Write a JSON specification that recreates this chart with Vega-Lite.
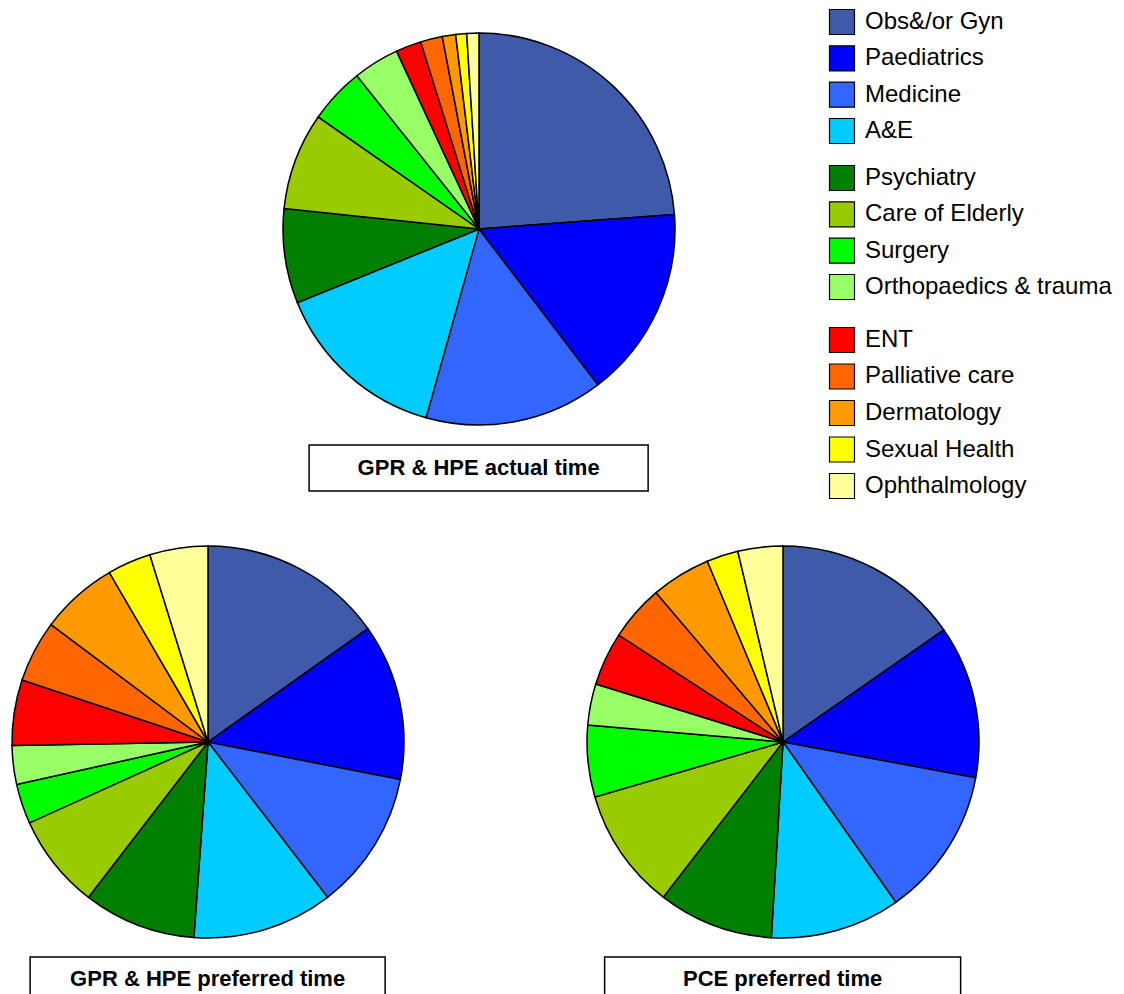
{
  "$schema": "https://vega.github.io/schema/vega-lite/v6.json",
  "background": "white",
  "padding": {"left": 8, "top": 7, "right": 0, "bottom": 0},
  "config": {
    "view": {"stroke": null},
    "font": "Liberation Sans"
  },
  "datasets": {
    "specialties": [
      {"specialty": "Obs&/or Gyn", "group": 1, "rank": 1},
      {"specialty": "Paediatrics", "group": 1, "rank": 2},
      {"specialty": "Medicine", "group": 1, "rank": 3},
      {"specialty": "A&E", "group": 1, "rank": 4},
      {"specialty": "Psychiatry", "group": 2, "rank": 5},
      {"specialty": "Care of Elderly", "group": 2, "rank": 6},
      {"specialty": "Surgery", "group": 2, "rank": 7},
      {"specialty": "Orthopaedics & trauma", "group": 2, "rank": 8},
      {"specialty": "ENT", "group": 3, "rank": 9},
      {"specialty": "Palliative care", "group": 3, "rank": 10},
      {"specialty": "Dermatology", "group": 3, "rank": 11},
      {"specialty": "Sexual Health", "group": 3, "rank": 12},
      {"specialty": "Ophthalmology", "group": 3, "rank": 13}
    ],
    "shares": [
      {"chart": "GPR & HPE actual time", "specialty": "Obs&/or Gyn", "pct": 23.8},
      {"chart": "GPR & HPE actual time", "specialty": "Paediatrics", "pct": 15.8},
      {"chart": "GPR & HPE actual time", "specialty": "Medicine", "pct": 14.7},
      {"chart": "GPR & HPE actual time", "specialty": "A&E", "pct": 14.5},
      {"chart": "GPR & HPE actual time", "specialty": "Psychiatry", "pct": 7.8},
      {"chart": "GPR & HPE actual time", "specialty": "Care of Elderly", "pct": 8.0},
      {"chart": "GPR & HPE actual time", "specialty": "Surgery", "pct": 4.6},
      {"chart": "GPR & HPE actual time", "specialty": "Orthopaedics & trauma", "pct": 3.8},
      {"chart": "GPR & HPE actual time", "specialty": "ENT", "pct": 2.1},
      {"chart": "GPR & HPE actual time", "specialty": "Palliative care", "pct": 1.8},
      {"chart": "GPR & HPE actual time", "specialty": "Dermatology", "pct": 1.1},
      {"chart": "GPR & HPE actual time", "specialty": "Sexual Health", "pct": 0.9},
      {"chart": "GPR & HPE actual time", "specialty": "Ophthalmology", "pct": 1.0},
      {"chart": "GPR & HPE preferred time", "specialty": "Obs&/or Gyn", "pct": 15.2},
      {"chart": "GPR & HPE preferred time", "specialty": "Paediatrics", "pct": 12.9},
      {"chart": "GPR & HPE preferred time", "specialty": "Medicine", "pct": 11.5},
      {"chart": "GPR & HPE preferred time", "specialty": "A&E", "pct": 11.6},
      {"chart": "GPR & HPE preferred time", "specialty": "Psychiatry", "pct": 9.3},
      {"chart": "GPR & HPE preferred time", "specialty": "Care of Elderly", "pct": 7.8},
      {"chart": "GPR & HPE preferred time", "specialty": "Surgery", "pct": 3.3},
      {"chart": "GPR & HPE preferred time", "specialty": "Orthopaedics & trauma", "pct": 3.2},
      {"chart": "GPR & HPE preferred time", "specialty": "ENT", "pct": 5.4},
      {"chart": "GPR & HPE preferred time", "specialty": "Palliative care", "pct": 5.1},
      {"chart": "GPR & HPE preferred time", "specialty": "Dermatology", "pct": 6.4},
      {"chart": "GPR & HPE preferred time", "specialty": "Sexual Health", "pct": 3.6},
      {"chart": "GPR & HPE preferred time", "specialty": "Ophthalmology", "pct": 4.8},
      {"chart": "PCE preferred time", "specialty": "Obs&/or Gyn", "pct": 15.3},
      {"chart": "PCE preferred time", "specialty": "Paediatrics", "pct": 12.6},
      {"chart": "PCE preferred time", "specialty": "Medicine", "pct": 12.3},
      {"chart": "PCE preferred time", "specialty": "A&E", "pct": 10.7},
      {"chart": "PCE preferred time", "specialty": "Psychiatry", "pct": 9.5},
      {"chart": "PCE preferred time", "specialty": "Care of Elderly", "pct": 10.0},
      {"chart": "PCE preferred time", "specialty": "Surgery", "pct": 5.9},
      {"chart": "PCE preferred time", "specialty": "Orthopaedics & trauma", "pct": 3.4},
      {"chart": "PCE preferred time", "specialty": "ENT", "pct": 4.4},
      {"chart": "PCE preferred time", "specialty": "Palliative care", "pct": 4.6},
      {"chart": "PCE preferred time", "specialty": "Dermatology", "pct": 4.9},
      {"chart": "PCE preferred time", "specialty": "Sexual Health", "pct": 2.6},
      {"chart": "PCE preferred time", "specialty": "Ophthalmology", "pct": 3.7}
    ]
  },
  "vconcat": [
    {
      "hconcat": [
        {
          "vconcat": [
            {
              "width": 942,
              "height": 430,
              "data": {"name": "shares"},
              "transform": [
                {"filter": "datum.chart === 'GPR & HPE actual time'"},
                {"lookup": "specialty", "from": {"data": {"name": "specialties"}, "key": "specialty", "fields": ["rank"]}}
              ],
              "mark": {"type": "arc", "outerRadius": 196, "stroke": "black", "strokeWidth": 1.5},
              "encoding": {
                "theta": {"field": "pct", "type": "quantitative", "stack": true},
                "order": {"field": "rank", "type": "quantitative"},
                "color": {
                  "field": "specialty", "type": "nominal", "legend": null,
                  "scale": {
                    "domain": ["Obs&/or Gyn", "Paediatrics", "Medicine", "A&E", "Psychiatry", "Care of Elderly", "Surgery", "Orthopaedics & trauma", "ENT", "Palliative care", "Dermatology", "Sexual Health", "Ophthalmology"],
                    "range": ["#3F5AA8", "#0000FF", "#3366FF", "#00CCFF", "#007F00", "#99CC00", "#00FF00", "#99FF66", "#FF0000", "#FF6600", "#FF9900", "#FFFF00", "#FFFF99"]
                  }
                }
              }
            },
            {
              "width": 339,
              "height": 46,
              "view": {"stroke": "black", "strokeWidth": 1.5},
              "data": {"values": [{"chart": "GPR & HPE actual time"}]},
              "mark": {"type": "text", "fontSize": 22, "fontWeight": "bold", "color": "black", "baseline": "middle"},
              "encoding": {"text": {"field": "chart"}}
            }
          ],
          "spacing": 0,
          "center": true
        },
        {
          "vconcat": [
            {
              "width": 26,
              "height": 125,
              "data": {"name": "specialties"},
              "transform": [{"filter": "datum.group === 1"}],
              "encoding": {
                "y": {"field": "specialty", "type": "nominal", "sort": {"field": "rank", "op": "min"}, "axis": null, "scale": {"padding": 0.22}}
              },
              "layer": [
                {
                  "mark": {"type": "square", "size": 625, "filled": true, "opacity": 1, "stroke": "black", "strokeWidth": 1.2},
                  "encoding": {"color": {"field": "specialty", "type": "nominal", "legend": null}}
                },
                {
                  "mark": {"type": "text", "align": "left", "baseline": "middle", "dx": 23, "fontSize": 24, "color": "black"},
                  "encoding": {"text": {"field": "specialty"}}
                }
              ]
            },
            {
              "width": 26,
              "height": 125,
              "data": {"name": "specialties"},
              "transform": [{"filter": "datum.group === 2"}],
              "encoding": {
                "y": {"field": "specialty", "type": "nominal", "sort": {"field": "rank", "op": "min"}, "axis": null, "scale": {"padding": 0.22}}
              },
              "layer": [
                {
                  "mark": {"type": "square", "size": 625, "filled": true, "opacity": 1, "stroke": "black", "strokeWidth": 1.2},
                  "encoding": {"color": {"field": "specialty", "type": "nominal", "legend": null}}
                },
                {
                  "mark": {"type": "text", "align": "left", "baseline": "middle", "dx": 23, "fontSize": 24, "color": "black"},
                  "encoding": {"text": {"field": "specialty"}}
                }
              ]
            },
            {
              "width": 26,
              "height": 188,
              "data": {"name": "specialties"},
              "transform": [{"filter": "datum.group === 3"}],
              "encoding": {
                "y": {"field": "specialty", "type": "nominal", "sort": {"field": "rank", "op": "min"}, "axis": null, "scale": {"padding": 0.575}}
              },
              "layer": [
                {
                  "mark": {"type": "square", "size": 625, "filled": true, "opacity": 1, "stroke": "black", "strokeWidth": 1.2},
                  "encoding": {"color": {"field": "specialty", "type": "nominal", "legend": null}}
                },
                {
                  "mark": {"type": "text", "align": "left", "baseline": "middle", "dx": 23, "fontSize": 24, "color": "black"},
                  "encoding": {"text": {"field": "specialty"}}
                }
              ]
            }
          ],
          "spacing": 17
        }
      ],
      "spacing": 821,
      "bounds": "flush"
    },
    {
      "hconcat": [
        {
          "vconcat": [
            {
              "width": 400,
              "height": 400,
              "data": {"name": "shares"},
              "transform": [
                {"filter": "datum.chart === 'GPR & HPE preferred time'"},
                {"lookup": "specialty", "from": {"data": {"name": "specialties"}, "key": "specialty", "fields": ["rank"]}}
              ],
              "mark": {"type": "arc", "outerRadius": 196, "stroke": "black", "strokeWidth": 1.5},
              "encoding": {
                "theta": {"field": "pct", "type": "quantitative", "stack": true},
                "order": {"field": "rank", "type": "quantitative"},
                "color": {"field": "specialty", "type": "nominal", "legend": null}
              }
            },
            {
              "width": 355,
              "height": 39,
              "view": {"stroke": "black", "strokeWidth": 1.5},
              "data": {"values": [{"chart": "GPR & HPE preferred time"}]},
              "mark": {"type": "text", "fontSize": 22, "fontWeight": "bold", "color": "black", "baseline": "middle", "dy": 2},
              "encoding": {"text": {"field": "chart"}}
            }
          ],
          "spacing": 14,
          "center": true
        },
        {
          "vconcat": [
            {
              "width": 400,
              "height": 400,
              "data": {"name": "shares"},
              "transform": [
                {"filter": "datum.chart === 'PCE preferred time'"},
                {"lookup": "specialty", "from": {"data": {"name": "specialties"}, "key": "specialty", "fields": ["rank"]}}
              ],
              "mark": {"type": "arc", "outerRadius": 196, "stroke": "black", "strokeWidth": 1.5},
              "encoding": {
                "theta": {"field": "pct", "type": "quantitative", "stack": true},
                "order": {"field": "rank", "type": "quantitative"},
                "color": {"field": "specialty", "type": "nominal", "legend": null}
              }
            },
            {
              "width": 356,
              "height": 39,
              "view": {"stroke": "black", "strokeWidth": 1.5},
              "data": {"values": [{"chart": "PCE preferred time"}]},
              "mark": {"type": "text", "fontSize": 22, "fontWeight": "bold", "color": "black", "baseline": "middle", "dy": 2},
              "encoding": {"text": {"field": "chart"}}
            }
          ],
          "spacing": 14,
          "center": true
        }
      ],
      "spacing": 175
    }
  ],
  "spacing": 35
}
